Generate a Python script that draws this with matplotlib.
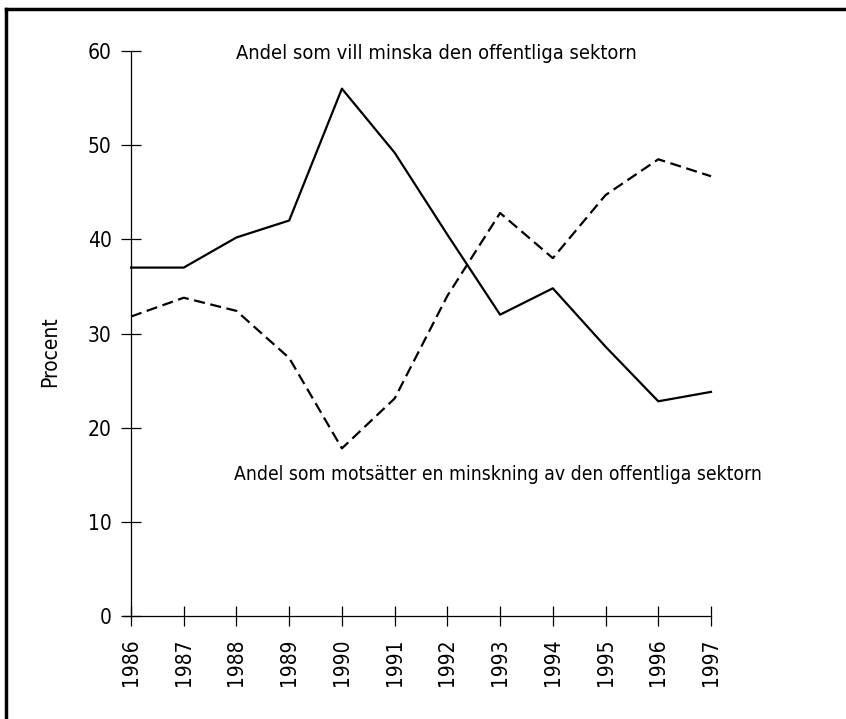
import matplotlib
matplotlib.use("Agg")
import matplotlib.pyplot as plt
from matplotlib.lines import Line2D

plt.rcParams['font.family'] = ['DejaVu Sans']
plt.rcParams['font.stretch'] = 'condensed'

# Data
years = [1986, 1987, 1988, 1989, 1990, 1991, 1992, 1993, 1994, 1995, 1996, 1997]
vill_minska = [37.0, 37.0, 40.2, 42.0, 56.0, 49.2, 40.5, 32.0, 34.8, 28.6, 22.8, 23.8]
motsatter = [31.8, 33.8, 32.4, 27.4, 17.8, 23.1, 34.0, 42.8, 38.0, 44.7, 48.5, 46.7]
yticks = [0, 10, 20, 30, 40, 50, 60]

label_top = "Andel som vill minska den offentliga sektorn"
label_bottom = "Andel som motsätter en minskning av den offentliga sektorn"

fig = plt.figure(figsize=(8.46, 7.19), dpi=100)
ax = fig.add_axes([123 / 846, 1 - 616 / 719, 588 / 846, 565 / 719])

ax.plot(years, vill_minska, color='black', lw=1.6, clip_on=False)
ax.plot(years, motsatter, color='black', lw=1.6, linestyle=(0, (5, 2.5)), clip_on=False)

ax.set_xlim(1986 - 8 / 52.7, 1997)
ax.set_ylim(0, 60)
ax.set_xticks(years)
ax.set_xticklabels([str(y) for y in years], rotation=90)
ax.set_yticks(yticks)

for s in ['top', 'right']:
    ax.spines[s].set_visible(False)
ax.spines['left'].set_position(('data', 1986))
ax.spines['left'].set_linewidth(0.9)
ax.spines['bottom'].set_linewidth(0.9)
ax.tick_params(axis='both', direction='inout', length=14, width=0.9,
               labelsize=15, color='black')
ax.tick_params(axis='y', pad=7)
ax.tick_params(axis='x', pad=9)

t1 = ax.text(1988.0, 59.7, label_top, fontsize=15, va='center', ha='left')
t2 = ax.text(1987.95, 15.0, label_bottom, fontsize=15, va='center', ha='left')

fig.text(50 / 846, 1 - 352 / 719, "Procent", rotation=90, fontsize=15,
         ha='center', va='center')

# match the label widths seen in the reference
fig.canvas.draw()
r = fig.canvas.get_renderer()
for t, w in [(t1, 401), (t2, 529)]:
    t.set_fontsize(t.get_fontsize() * w / t.get_window_extent(r).width)

# frame around the figure (only top and left edges visible)
fig.add_artist(Line2D([6 / 846, 1], [1 - 9 / 719] * 2, color='black', lw=2.5,
                      transform=fig.transFigure))
fig.add_artist(Line2D([6 / 846] * 2, [0, 1 - 9 / 719], color='black', lw=2.5,
                      transform=fig.transFigure))

fig.savefig("out.png", dpi=100)
